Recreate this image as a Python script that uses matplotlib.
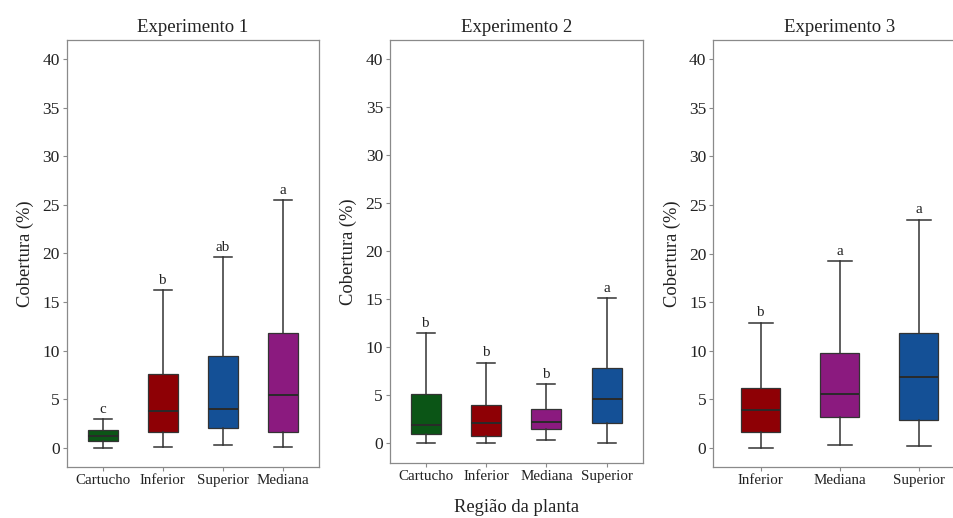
import matplotlib
matplotlib.use("Agg")
import matplotlib.pyplot as plt

plt.rcParams['font.family'] = ['Liberation Serif', 'DejaVu Serif']

# Five-number summaries (whisker low, Q1, median, Q3, whisker high) per plant region
exp1_regions = ["Cartucho", "Inferior", "Superior", "Mediana"]
exp1_low = [0.0, 0.1, 0.25, 0.1]
exp1_q1 = [0.7, 1.57, 2.02, 1.64]
exp1_med = [1.2, 3.73, 3.94, 5.45]
exp1_q3 = [1.78, 7.6, 9.39, 11.79]
exp1_high = [2.9, 16.2, 19.64, 25.46]
exp1_letters = ["c", "b", "ab", "a"]

exp2_regions = ["Cartucho", "Inferior", "Mediana", "Superior"]
exp2_low = [0.0, 0.0, 0.35, 0.0]
exp2_q1 = [0.97, 0.8, 1.49, 2.18]
exp2_med = [1.97, 2.18, 2.25, 4.6]
exp2_q3 = [5.19, 4.02, 3.6, 7.9]
exp2_high = [11.5, 8.42, 6.16, 15.13]
exp2_letters = ["b", "b", "b", "a"]

exp3_regions = ["Inferior", "Mediana", "Superior"]
exp3_low = [0.03, 0.31, 0.17]
exp3_q1 = [1.65, 3.19, 2.91]
exp3_med = [3.94, 5.59, 7.27]
exp3_q3 = [6.17, 9.8, 11.79]
exp3_high = [12.89, 19.19, 23.48]
exp3_letters = ["b", "a", "a"]

titles = ["Experimento 1", "Experimento 2", "Experimento 3"]
yticks = [0, 5, 10, 15, 20, 25, 30, 35, 40]

region_colors = {
    "Cartucho": "#0b5516",
    "Inferior": "#8e0005",
    "Superior": "#145096",
    "Mediana": "#8b1a7f",
}

panels = [
    (exp1_regions, exp1_low, exp1_q1, exp1_med, exp1_q3, exp1_high, exp1_letters),
    (exp2_regions, exp2_low, exp2_q1, exp2_med, exp2_q3, exp2_high, exp2_letters),
    (exp3_regions, exp3_low, exp3_q1, exp3_med, exp3_q3, exp3_high, exp3_letters),
]

positions_fig = [
    [0.0699, 0.0985, 0.2645, 0.8243],
    [0.4088, 0.1068, 0.2649, 0.8160],
    [0.7477, 0.0979, 0.2650, 0.8250],
]

fig = plt.figure(figsize=(9.54, 5.18), dpi=100)
frame_color = "#8a8a8a"
line_color = "#333333"
text_color = "#222222"

for (regions, low, q1, med, q3, high, letters), rect, title in zip(panels, positions_fig, titles):
    ax = fig.add_axes(rect)
    stats = []
    for i, r in enumerate(regions):
        stats.append(dict(label=r, whislo=low[i], q1=q1[i], med=med[i],
                          q3=q3[i], whishi=high[i], fliers=[]))
    pos = list(range(1, len(regions) + 1))
    bp = ax.bxp(stats, positions=pos, widths=0.5, patch_artist=True,
                showfliers=False,
                boxprops=dict(edgecolor=line_color, linewidth=0.9),
                medianprops=dict(color="#2a2a2a", linewidth=1.4),
                whiskerprops=dict(color=line_color, linewidth=1.1),
                capprops=dict(color=line_color, linewidth=1.1),
                capwidths=0.3)
    for patch, r in zip(bp['boxes'], regions):
        patch.set_facecolor(region_colors[r])
    for p, h, lab in zip(pos, high, letters):
        ax.text(p, h + 0.35, lab, ha='center', va='bottom', fontsize=10.8,
                color=text_color)
    ax.set_xlim(0.4, len(regions) + 0.6)
    ax.set_ylim(-2, 42)
    ax.set_yticks(yticks)
    ax.set_xticks(pos)
    ax.set_xticklabels(regions, fontsize=10.8, color=text_color)
    ax.tick_params(axis='y', labelsize=12.5, colors=text_color)
    ax.tick_params(axis='both', length=3, width=0.8, color=frame_color, pad=2)
    for sp in ax.spines.values():
        sp.set_color(frame_color)
        sp.set_linewidth(0.9)
    ax.set_title(title, fontsize=13.5, color=text_color, pad=6)
    ax.set_ylabel("Cobertura (%)", fontsize=13.3, color=text_color, labelpad=6)

fig.text(0.5415, 0.02, "Região da planta", ha='center', va='center',
         fontsize=13.4, color=text_color)

fig.savefig("out.png", dpi=100)
